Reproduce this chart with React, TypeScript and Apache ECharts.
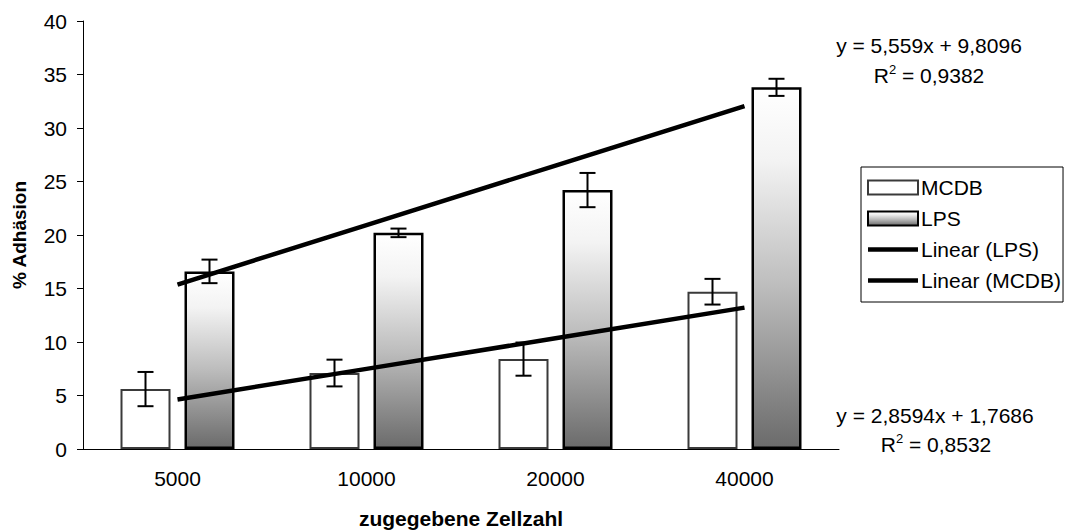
import React, { useEffect, useRef } from "react";
import * as echarts from "echarts";

const categories = ["5000", "10000", "20000", "40000"];
const mcdbValues = [5.6, 7.1, 8.4, 14.7];
const mcdbErrors = [1.6, 1.25, 1.55, 1.2];
const lpsValues = [16.6, 20.2, 24.2, 33.8];
const lpsErrors = [1.1, 0.4, 1.6, 0.8];
const trendLps = [15.37, 20.93, 26.49, 32.05];
const trendMcdb = [4.63, 7.49, 10.35, 13.21];
const yTicks = { min: 0, max: 40, interval: 5 };
const eqLps = ["y = 5,559x + 9,8096", "0,9382"];
const eqMcdb = ["y = 2,8594x + 1,7686", "0,8532"];

const FONT = "'Liberation Sans', Arial, Helvetica, sans-serif";
const BAR_W = 50;
const BAR_GAP = 14;
const LINE_ICON = "path://M0 0 H52 V4.5 H0 Z";

export default function App() {
  const ref = useRef<HTMLDivElement>(null);
  useEffect(() => {
    if (!ref.current) return;
    const chart = echarts.init(ref.current, null, { renderer: "svg" });
    const offset = (BAR_W + BAR_GAP) / 2;
    const errData: number[][] = [];
    mcdbValues.forEach((v, i) => errData.push([i, v, mcdbErrors[i], -1]));
    lpsValues.forEach((v, i) => errData.push([i, v, lpsErrors[i], 1]));

    const lpsGradient = new echarts.graphic.LinearGradient(0, 0, 0, 1, [
      { offset: 0, color: "#ffffff" },
      { offset: 0.2, color: "#f3f3f3" },
      { offset: 0.55, color: "#bdbdbd" },
      { offset: 1, color: "#6b6b6b" },
    ]);

    const rich = {
      n: { fontSize: 21, fontFamily: FONT, color: "#000" },
      s: { fontSize: 13, fontFamily: FONT, color: "#000", padding: [0, 0, 12, 0] },
    };

    chart.setOption({
      animation: false,
      textStyle: { fontFamily: FONT },
      grid: { left: 83, top: 21, right: 229, bottom: 82, containLabel: false, outerBoundsMode: "none" },
      legend: {
        orient: "vertical",
        left: 861,
        top: 167,
        data: [
          { name: "MCDB", icon: "rect" },
          { name: "LPS", icon: "rect" },
          { name: "Linear (LPS)", icon: LINE_ICON },
          { name: "Linear (MCDB)", icon: LINE_ICON },
        ],
        borderColor: "#000",
        borderWidth: 1,
        padding: [10, 2, 11, 6],
        itemWidth: 50,
        itemHeight: 14,
        itemGap: 10,
        textStyle: { fontSize: 21, color: "#000", fontFamily: FONT, padding: [0, 0, 0, -2] },
      },
      xAxis: {
        type: "category",
        data: categories,
        name: "zugegebene Zellzahl",
        nameLocation: "middle",
        nameGap: 59,
        nameTextStyle: { fontSize: 21, fontWeight: "bold", color: "#000", fontFamily: FONT },
        axisLine: { lineStyle: { color: "#000", width: 1 } },
        axisTick: { length: 6, lineStyle: { color: "#000" } },
        axisLabel: { fontSize: 21, color: "#000", margin: 19, fontFamily: FONT },
      },
      yAxis: {
        type: "value",
        min: yTicks.min,
        max: yTicks.max,
        interval: yTicks.interval,
        name: "% Adhäsion",
        nameLocation: "middle",
        nameGap: 54,
        nameRotate: 90,
        nameTextStyle: { fontSize: 19, fontWeight: "bold", color: "#000", fontFamily: FONT },
        axisLine: { show: true, lineStyle: { color: "#000", width: 1 } },
        axisTick: { show: true, length: 6, lineStyle: { color: "#000" } },
        axisLabel: { fontSize: 21, color: "#000", margin: 16, fontFamily: FONT },
        splitLine: { show: false },
      },
      series: [
        {
          name: "MCDB",
          type: "bar",
          data: mcdbValues,
          barWidth: BAR_W,
          barGap: (BAR_GAP / BAR_W) * 100 + "%",
          itemStyle: { color: "#ffffff", borderColor: "#3a3a3a", borderWidth: 2 },
          z: 2,
        },
        {
          name: "LPS",
          type: "bar",
          data: lpsValues,
          barWidth: BAR_W,
          itemStyle: { color: lpsGradient, borderColor: "#000", borderWidth: 2.5 },
          z: 2,
        },
        {
          name: "Linear (LPS)",
          type: "line",
          data: trendLps,
          symbol: "none",
          lineStyle: { color: "#000", width: 4.5 },
          itemStyle: { color: "#000" },
          z: 4,
        },
        {
          name: "Linear (MCDB)",
          type: "line",
          data: trendMcdb,
          symbol: "none",
          lineStyle: { color: "#000", width: 4.5 },
          itemStyle: { color: "#000" },
          z: 4,
        },
        {
          name: "errors",
          type: "custom",
          data: errData,
          z: 5,
          renderItem: (params: any, api: any) => {
            const idx = api.value(0);
            const val = api.value(1);
            const err = api.value(2);
            const side = api.value(3);
            const hi = api.coord([idx, val + err]);
            const lo = api.coord([idx, val - err]);
            const x = hi[0] + side * offset;
            const cap = 8;
            const st = { stroke: "#000", lineWidth: 2 };
            return {
              type: "group",
              children: [
                { type: "line", shape: { x1: x, y1: hi[1], x2: x, y2: lo[1] }, style: st },
                { type: "line", shape: { x1: x - cap, y1: hi[1], x2: x + cap, y2: hi[1] }, style: st },
                { type: "line", shape: { x1: x - cap, y1: lo[1], x2: x + cap, y2: lo[1] }, style: st },
              ],
            };
          },
        },
      ],
      graphic: [
        {
          type: "text",
          x: 929,
          y: 45,
          style: { text: eqLps[0], font: `21px ${FONT}`, fill: "#000", align: "center", verticalAlign: "middle" },
        },
        {
          type: "text",
          x: 929,
          y: 75,
          style: {
            text: `{n|R}{s|2}{n| = ${eqLps[1]}}`,
            rich,
            align: "center",
            verticalAlign: "middle",
          },
        },
        {
          type: "text",
          x: 935,
          y: 415,
          style: { text: eqMcdb[0], font: `21px ${FONT}`, fill: "#000", align: "center", verticalAlign: "middle" },
        },
        {
          type: "text",
          x: 936,
          y: 444,
          style: {
            text: `{n|R}{s|2}{n| = ${eqMcdb[1]}}`,
            rich,
            align: "center",
            verticalAlign: "middle",
          },
        },
      ],
    });
    return () => chart.dispose();
  }, []);
  return (
    <div
      ref={ref}
      style={{ position: "absolute", left: 0, top: 0, width: "1068px", height: "531px", background: "#fff" }}
    />
  );
}
